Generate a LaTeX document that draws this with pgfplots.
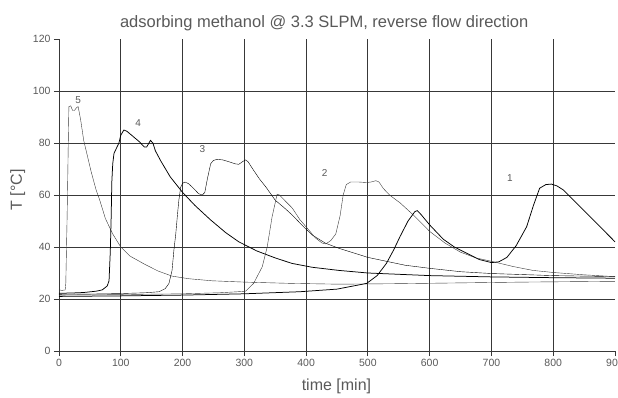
\documentclass[border=0pt]{standalone}
\usepackage{fontspec}
\setmainfont{Liberation Sans}
\usepackage{pgfplots}
\pgfplotsset{compat=1.18}
\definecolor{txt}{gray}{0.35}
\definecolor{grd}{gray}{0.22}
\definecolor{crv}{gray}{0.22}
\begin{document}
\begin{tikzpicture}
\path[use as bounding box] (-59pt,-46pt) rectangle (559pt,351pt);
\begin{axis}[
  at={(0pt,0pt)}, anchor=south west,
  scale only axis, width=556pt, height=312pt,
  xmin=0, xmax=900, ymin=0, ymax=120,
  axis x line*=bottom, axis y line*=left,
  xtick={0,100,...,800}, extra x ticks={900}, extra x tick style={grid=none},
  ytick={0,20,...,100}, extra y ticks={120}, extra y tick style={grid=none},
  grid=major, major grid style={grd, line width=0.8pt},
  tick align=outside, major tick length=5pt,
  tick style={grd, line width=0.8pt},
  axis line style={grd, line width=0.8pt},
  /pgf/number format/assume math mode=true,
  ticklabel style={font=\fontsize{10.5}{12}\selectfont, text=txt},
  title={adsorbing methanol @ 3.3 SLPM, reverse flow direction},
  every axis title shift=0pt,
  title style={at={(axis description cs:0.477,1.05)}, anchor=center, font=\fontsize{16.5}{19}\selectfont, text=txt},
  xlabel={time [min]},
  xlabel style={at={(axis description cs:0.499,-0.112)}, anchor=center, font=\fontsize{16}{19}\selectfont, text=txt},
  ylabel={T [°C]},
  ylabel style={at={(axis description cs:-0.074,0.516)}, anchor=center, rotate=0, font=\fontsize{16}{19}\selectfont, text=txt},
  cycle list={{crv, line width=0.75pt, no marks}},
  clip=false,
]
% curve 5
\addplot coordinates {(0,23.5) (5,23.3) (10,23.5) (11,26) (12,38) (13,50) (14,64) (15,80) (16,94) (19,94.3) (22,92.5) (25,92.5) (28,93.5) (31,94) (35,89) (40,81) (46,75) (52,69) (60,62) (66,58) (75,51) (87,45) (100,40) (115,36.5) (140,33.2) (160,30.8) (183,28.8) (210,27.8) (248,27) (300,26.5) (377,26) (453,25.7) (550,25.9) (650,26.2) (750,26.5) (900,26.8)};
% curve 4
\addplot coordinates {(0,22.2) (20,22.3) (40,22.5) (60,23) (70,23.5) (78,25) (81,27) (83,38) (84.5,52) (85.5,65) (87,72) (89,76) (93,78) (97,80) (100,83) (105,85) (110,84.5) (120,82.5) (130,80.5) (138,78.5) (142,78.5) (148,81) (152,80) (156,77) (165,73) (180,67) (200,61) (220,56) (245,50.5) (270,45.5) (291,42) (320,38.5) (350,35.8) (377,33.7) (410,32.2) (453,31) (500,30) (600,29) (700,28.5) (800,28.2) (900,28)};
% curve 3
\addplot coordinates {(0,21.8) (50,21.9) (100,22.1) (140,22.4) (162,22.8) (172,24) (178,26) (183,31) (186,38.8) (189,45) (191.5,51.7) (194,58) (197,63) (200,64.5) (204,65) (210,64.3) (218,62.5) (226,60.5) (232,60) (236,61) (240,66) (245.5,72) (250,73.3) (256,73.7) (265,73.5) (275,72.8) (285,72) (291,71.8) (297,72.8) (302,73.5) (306,72.8) (315,69.5) (325,66) (334.5,63.2) (350,58) (365,55) (377.5,52.3) (395,48) (410,44.6) (431,41.5) (453,39.5) (480,37.5) (500,36) (530,34.5) (560,33) (600,31.8) (650,30.5) (700,29.8) (800,29) (900,28.6)};
% curve 2
\addplot coordinates {(0,21.5) (100,21.7) (200,22) (260,22.4) (290,22.8) (302,23) (315,26) (329,32.4) (337,40) (345,51.7) (350,57) (353,60.3) (357,60) (365,58) (377.5,55) (390,50.5) (404.5,46.5) (415,43.5) (426,41.5) (432,41.2) (440,42.5) (448,45) (455,52) (460,60) (465,64) (472,65) (485,65) (498,64.8) (505,65) (513,65.5) (518,65) (525,62.5) (535,60) (552,57) (575,52) (600,46) (625,41.5) (650,38) (675,35.8) (700,34.5) (735,32.5) (767,31) (800,30.2) (850,29.3) (900,28.6)};
% curve 1
\addplot coordinates {(0,21) (100,21.2) (200,21.5) (300,22) (390,22.8) (450,23.8) (498,26) (515,29) (530,33.7) (542,39) (552,44) (565,50) (576,53.6) (580,54) (586,52.5) (600,48.5) (622,43) (640,40) (660,37.6) (680,35.2) (700,34) (712,34.3) (725,36) (740,40.5) (757,47.8) (768,56) (778,62.6) (788,64) (797,64.2) (806,63.5) (816,62) (835,57.5) (854,53) (875,48) (900,42)};
\node[text=txt, font=\fontsize{10}{12}\selectfont] at (axis cs:31,96.5) {5};
\node[text=txt, font=\fontsize{10}{12}\selectfont] at (axis cs:128,87.6) {4};
\node[text=txt, font=\fontsize{10}{12}\selectfont] at (axis cs:232,77.6) {3};
\node[text=txt, font=\fontsize{10}{12}\selectfont] at (axis cs:430,68.3) {2};
\node[text=txt, font=\fontsize{10}{12}\selectfont] at (axis cs:730,66.4) {1};
\end{axis}
\end{tikzpicture}
\end{document}
